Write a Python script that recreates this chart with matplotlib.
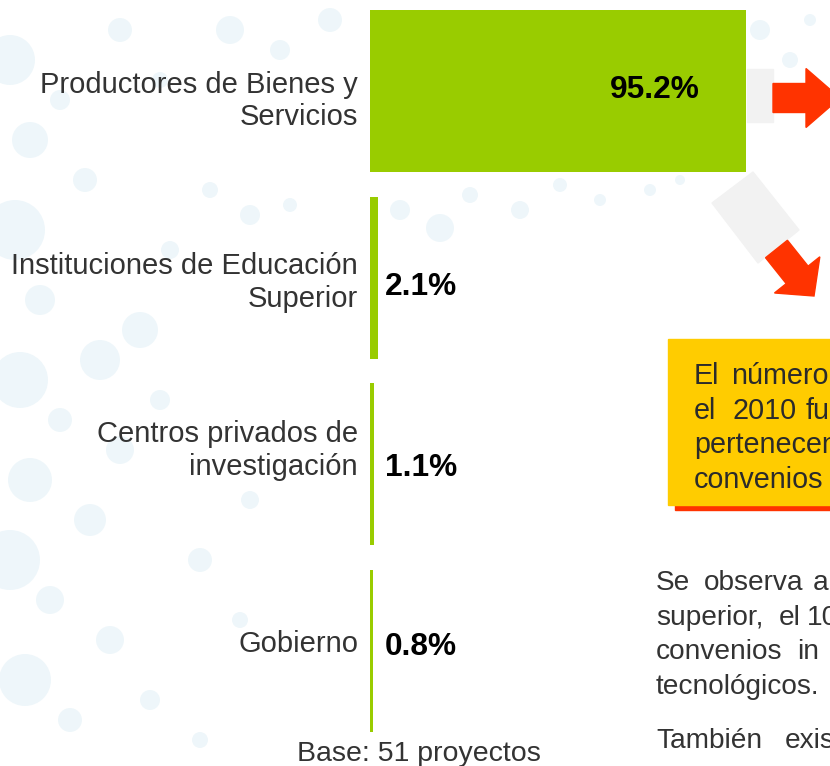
import matplotlib
matplotlib.use('Agg')
import matplotlib.pyplot as plt
from matplotlib.patches import Rectangle, Polygon, FancyArrow, Circle
import numpy as np

plt.rcParams['font.family'] = ['Liberation Sans', 'DejaVu Sans']

# ---- data ----
categories = ["Productores de Bienes y\nServicios",
              "Instituciones de Educación\nSuperior",
              "Centros privados de\ninvestigación",
              "Gobierno"]
values = [95.2, 2.1, 1.1, 0.8]
value_labels = ["95.2%", "2.1%", "1.1%", "0.8%"]
base_note = "Base: 51 proyectos"

box_lines = [["El", "número"],
             ["el", "2010", "fue"],
             ["pertenecen"],
             ["convenios"]]

para_lines = [["Se", "observa", "a"],
              ["superior,", "el", "10%"],
              ["convenios", "in"],
              ["tecnológicos."],
              ["También", "existen"]]

# ---- layout (pixels) ----
W, H = 830, 766
box_word_x = [[694, 731], [694, 732, 806], [694], [694]]
box_base_y = [384, 419, 453, 488]
para_word_x = [[656, 704, 813], [656, 779, 807], [656, 797], [656], [656, 785]]
para_base_y = [590, 625, 659, 694, 748]
label_shift_px = [10, 5, -14, -7]         # vertical nudges of category labels
value_base_px = [7, 17, 12, 4]            # value-label baseline below bar centre

bubbles = [(10, 60, 25), (30, 140, 18), (15, 230, 30), (40, 300, 15), (20, 380, 28),
           (60, 420, 12), (30, 480, 22), (10, 560, 30), (50, 600, 14), (25, 680, 26),
           (70, 720, 12), (100, 360, 20), (140, 330, 18), (120, 450, 14), (90, 520, 16),
           (160, 400, 10), (230, 30, 14), (280, 50, 10), (330, 20, 12), (210, 190, 8),
           (250, 215, 10), (290, 205, 7), (400, 210, 10), (440, 228, 14), (470, 195, 8),
           (520, 210, 9), (560, 185, 7), (600, 200, 6), (650, 190, 6), (680, 180, 5),
           (760, 30, 10), (790, 60, 8), (810, 20, 6), (120, 30, 12), (160, 80, 8),
           (60, 100, 10), (250, 500, 9), (200, 560, 12), (240, 620, 8), (110, 640, 14),
           (150, 700, 10), (200, 740, 8), (170, 250, 9), (85, 180, 12)]

fig = plt.figure(figsize=(W / 100, H / 100), dpi=100)

bg = fig.add_axes([0, 0, 1, 1])
bg.set_xlim(0, W)
bg.set_ylim(H, 0)
bg.axis('off')

for bx, by, br in bubbles:
    bg.add_patch(Circle((bx, by), br, color='#d5eaf3', alpha=0.4, lw=0, zorder=0))

# ---- main bar axes ----
spacing = 186.7
ax = fig.add_axes([370 / W, 0, 395 / W, 1])
ax.patch.set_alpha(0)
y = np.arange(len(categories))
ax.set_ylim((H - 91) / spacing, -91 / spacing)
ax.set_xlim(0, 100)
ax.barh(y, values, height=162 / spacing, color='#99CC00', zorder=2)
ax.set_yticks(y, [''] * len(categories))
ax.tick_params(axis='y', length=0)
ax.set_xticks([])
for s in ax.spines.values():
    s.set_visible(False)

for i, cat in enumerate(categories):
    ax.annotate(cat, xy=(0, i), xycoords=('axes fraction', 'data'),
                xytext=(-8.6, -label_shift_px[i] * 0.72), textcoords='offset points',
                ha='right', va='center', multialignment='right',
                fontsize=21, color='#333333', linespacing=1.2)

for i, (v, lab) in enumerate(zip(values, value_labels)):
    dy = -value_base_px[i] * 0.72
    if v > 50:
        ax.annotate(lab, (v, i), xytext=(-33, dy), textcoords='offset points',
                    ha='right', va='baseline', fontsize=22.8, fontweight='bold',
                    color='black', zorder=3)
    else:
        ax.annotate(lab, (0, i), xytext=(10.8, dy), textcoords='offset points',
                    ha='left', va='baseline', fontsize=22.8, fontweight='bold',
                    color='black', zorder=3)

bg.text(419, 761, base_note, ha='center', va='baseline', fontsize=20.5,
        color='#333333')

# ---- decorations: arrows ----
bg.add_patch(Rectangle((747, 69), 26, 53, color='#F2F2F2', zorder=2))
bg.add_patch(FancyArrow(773, 98, 67, 0, width=29, head_width=59,
                        head_length=34, length_includes_head=True,
                        color='#FF3300', zorder=3))
bg.add_patch(Polygon([(712, 203), (753, 172), (799, 230), (758, 263)],
                     closed=True, color='#F2F2F2', zorder=2))
bg.add_patch(FancyArrow(776.5, 249, 37.5, 47, width=28, head_width=58,
                        head_length=27, length_includes_head=True,
                        color='#FF3300', zorder=3))

# ---- orange box ----
bg.add_patch(Rectangle((675, 344), 200, 166, color='#FF3300', zorder=2))
bg.add_patch(Rectangle((668, 339), 200, 166, color='#FFCC00', zorder=3))
for words, xs, yb in zip(box_lines, box_word_x, box_base_y):
    for w, x in zip(words, xs):
        bg.text(x, yb, w, ha='left', va='baseline', fontsize=20.7,
                color='#2b2b2b', zorder=4)

# ---- paragraph ----
for words, xs, yb in zip(para_lines, para_word_x, para_base_y):
    for w, x in zip(words, xs):
        bg.text(x, yb, w, ha='left', va='baseline', fontsize=20.2,
                color='#333333', zorder=4)

fig.savefig('out.png', dpi=100)
